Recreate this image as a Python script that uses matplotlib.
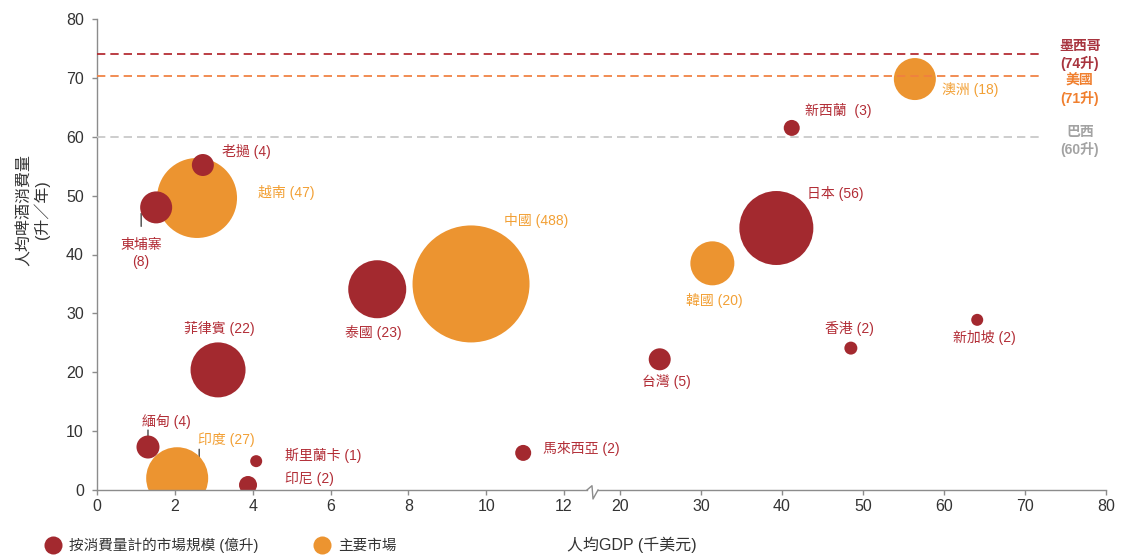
import matplotlib
matplotlib.use('Agg')
import matplotlib.pyplot as plt
import numpy as np
from matplotlib.lines import Line2D
import matplotlib.transforms as mtransforms

plt.rcParams['font.family'] = ['Liberation Sans', 'Noto Sans CJK TC', 'DejaVu Sans']
plt.rcParams['lines.scale_dashes'] = False

# ---------------- data ----------------
countries = ['越南', '中國', '印度', '韓國', '澳洲',
             '老撾', '東埔寨', '泰國', '菲律賓', '緬甸', '斯里蘭卡', '印尼',
             '馬來西亞', '台灣', '日本', '香港', '新加坡', '新西蘭']
gdp_per_capita = [2.57, 9.61, 2.06, 31.4, 56.4,
                  2.72, 1.52, 7.2, 3.11, 1.31, 4.09, 3.88,
                  10.95, 24.9, 39.3, 48.5, 64.1, 41.2]
beer_per_capita = [49.6, 35.0, 2.0, 38.5, 69.8,
                   55.2, 48.0, 34.1, 20.4, 7.3, 4.9, 0.85,
                   6.3, 22.2, 44.5, 24.1, 28.9, 61.5]
market_size = [47, 488, 27, 20, 18,
               4, 8, 23, 22, 4, 1, 2,
               2, 5, 56, 2, 2, 3]
major_market = [True, True, True, True, True,
                False, False, False, False, False, False, False,
                False, False, False, False, False, False]
bubble_size = [40, 58.5, 31, 22, 21,
               11, 16, 29, 27.5, 11.5, 6, 9,
               8, 11, 37, 6.5, 6, 8]

ref_names = ['墨西哥', '美國', '巴西']
ref_values = [74, 70.4, 60]
ref_labels = ['(74升)', '(71升)', '(60升)']

x_ticks = [0, 2, 4, 6, 8, 10, 12, 20, 30, 40, 50, 60, 70, 80]
y_ticks = [0, 10, 20, 30, 40, 50, 60, 70, 80]

# ---------------- styles ----------------
RED = '#A3292F'
ORANGE = '#EC9430'
RED_TXT = '#B22D36'
ORANGE_TXT = '#F2A035'
ref_line_colors = ['#B3292F', '#F08040', '#C8C8C8']
ref_text_colors = ['#A8343E', '#F07F2E', '#A3A3A3']
ref_text_dy = [-1, -14, -4]  # px

# label offsets (px, x right / y up) and alignment
label_layout = {
    '越南': (61, 5, 'left'),
    '中國': (33, 63, 'left'),
    '印度': (21, 39, 'left'),
    '韓國': (2, -37, 'center'),
    '澳洲': (27, -11, 'left'),
    '老撾': (19, 14, 'left'),
    '東埔寨': (-15, -46, 'center'),
    '泰國': (-4, -43, 'center'),
    '菲律賓': (1, 41, 'center'),
    '緬甸': (-6, 26, 'left'),
    '斯里蘭卡': (29, 6, 'left'),
    '印尼': (37, 6, 'left'),
    '馬來西亞': (20, 4, 'left'),
    '台灣': (7, -22, 'center'),
    '日本': (31, 35, 'left'),
    '香港': (-1, 20, 'center'),
    '新加坡': (7, -18, 'center'),
    '新西蘭': (13, 17, 'left'),
}
# leader lines: (dx, dy_start, dy_end) px relative to bubble center
leaders = {
    '東埔寨': (-15, -6, -19),
    '緬甸': (0, 11, 17),
    '印度': (22, 21, 29),
}

PX = 0.72  # points per pixel at dpi 100

# broken x-axis scale
B1, B2, R = 12.72, 16.55, 0.2081


def fwd(x):
    x = np.asarray(x, float)
    return np.where(x <= B1, x, np.where(x >= B2, B1 + (x - B2) * R, B1))


def inv(u):
    u = np.asarray(u, float)
    return np.where(u <= B1, u, B2 + (u - B1) / R)


fig = plt.figure(figsize=(11.21, 5.56), dpi=100)
ax = fig.add_axes([97 / 1121, 66 / 556, 1009 / 1121, 471 / 556])
ax.set_xscale('function', functions=(fwd, inv))
ax.set_xlim(0, 80)
ax.set_ylim(0, 80)

# reference lines
for v, c in zip(ref_values, ref_line_colors):
    ax.hlines(v, 0, 72, colors=c, linewidth=1.4, linestyles=(0, (6, 3.6)), zorder=4, alpha=0.9)

trans_ref = mtransforms.blended_transform_factory(ax.transAxes, ax.transData)
for name, v, lab, c, dy in zip(ref_names, ref_values, ref_labels, ref_text_colors, ref_text_dy):
    t = mtransforms.offset_copy(trans_ref, fig=fig, x=0, y=dy * PX, units='points')
    ax.text(0.974, v, name + '\n' + lab, transform=t, ha='center', va='center',
            color=c, fontsize=10, fontweight='bold', linespacing=1.25, clip_on=False)

# bubbles (clipped at the axes, as in the reference)
gdp = np.array(gdp_per_capita)
beer = np.array(beer_per_capita)
maj = np.array(major_market)
sizes = (2 * np.array(bubble_size) * PX) ** 2
ax.scatter(gdp[maj], beer[maj], s=sizes[maj], c=ORANGE, linewidths=0, zorder=2, clip_on=True)
ax.scatter(gdp[~maj], beer[~maj], s=sizes[~maj], c=RED, linewidths=0, zorder=3, clip_on=True)

# labels
for name, x, y, m, mj in zip(countries, gdp_per_capita, beer_per_capita, market_size, major_market):
    dx, dy, ha = label_layout[name]
    if name == '東埔寨':
        text = f'{name}\n({m})'
    elif name == '新西蘭':
        text = f'{name}  ({m})'
    else:
        text = f'{name} ({m})'
    ax.annotate(text, xy=(x, y), xytext=(dx * PX, dy * PX), textcoords='offset points',
                ha=ha, va='center', fontsize=10, color=ORANGE_TXT if mj else RED_TXT,
                linespacing=1.3, zorder=6)
    if name in leaders:
        ldx, y0, y1 = leaders[name]
        t = mtransforms.offset_copy(ax.transData, fig=fig, x=ldx * PX, y=y0 * PX, units='points')
        ax.annotate('', xy=(x, y), xycoords=t, xytext=(0, (y1 - y0) * PX), textcoords='offset points',
                    arrowprops=dict(arrowstyle='-', color='#333333', lw=0.9, shrinkA=0, shrinkB=0),
                    zorder=1)

# axes styling
SPINE = '#8C8C8C'
for s in ['top', 'right', 'bottom']:
    ax.spines[s].set_visible(False)
ax.spines['left'].set_color(SPINE)
ax.spines['left'].set_linewidth(1.0)

# bottom axis line with break mark
xb0 = (587 - 97) / 1009
xb1 = (598 - 97) / 1009
ax.plot([0, xb0], [0, 0], transform=ax.transAxes, color=SPINE, lw=1.0, clip_on=False, zorder=5)
ax.plot([xb1, 1], [0, 0], transform=ax.transAxes, color=SPINE, lw=1.0, clip_on=False, zorder=5)
ax.plot([xb0, (592 - 97) / 1009, (593 - 97) / 1009, xb1],
        [0, 4.3 / 471, -9 / 471, 0], transform=ax.transAxes, color=SPINE, lw=1.0,
        clip_on=False, zorder=5)

ax.set_xticks(x_ticks)
ax.set_xticklabels([str(t) for t in x_ticks])
ax.set_yticks(y_ticks)
ax.set_yticklabels([str(t) for t in y_ticks])
ax.tick_params(axis='both', colors=SPINE, labelcolor='#333333', labelsize=11.5, length=3.5, width=1.0)
ax.tick_params(axis='y', pad=6)
ax.tick_params(axis='x', pad=3)
ax.minorticks_off()

ax.set_xlabel('人均GDP (千美元)', fontsize=11.5, color='#333333')
ax.xaxis.set_label_coords((632 - 97) / 1009, (490 - 545) / 471)
ax.xaxis.label.set_va('center')
ax.set_ylabel('人均啤酒消費量\n(升／年)', fontsize=11.5, color='#333333', linespacing=1.15)
ax.yaxis.set_label_coords((33 - 97) / 1009, (490 - 210) / 471)
ax.yaxis.label.set_va('center')

# legend
handles = [Line2D([], [], marker='o', linestyle='none', markersize=13, markerfacecolor=RED, markeredgewidth=0),
           Line2D([], [], marker='o', linestyle='none', markersize=13, markerfacecolor=ORANGE, markeredgewidth=0)]
fig.legend(handles, ['按消費量計的市場規模 (億升)', '主要市場'], loc='center left',
           bbox_to_anchor=(45.7 / 1121, 11 / 556), ncol=2, frameon=False, fontsize=10.5,
           borderpad=0, borderaxespad=0, handlelength=1.0, handletextpad=0.62,
           columnspacing=3.85, labelcolor='#333333')

fig.savefig('out.png', dpi=100)
